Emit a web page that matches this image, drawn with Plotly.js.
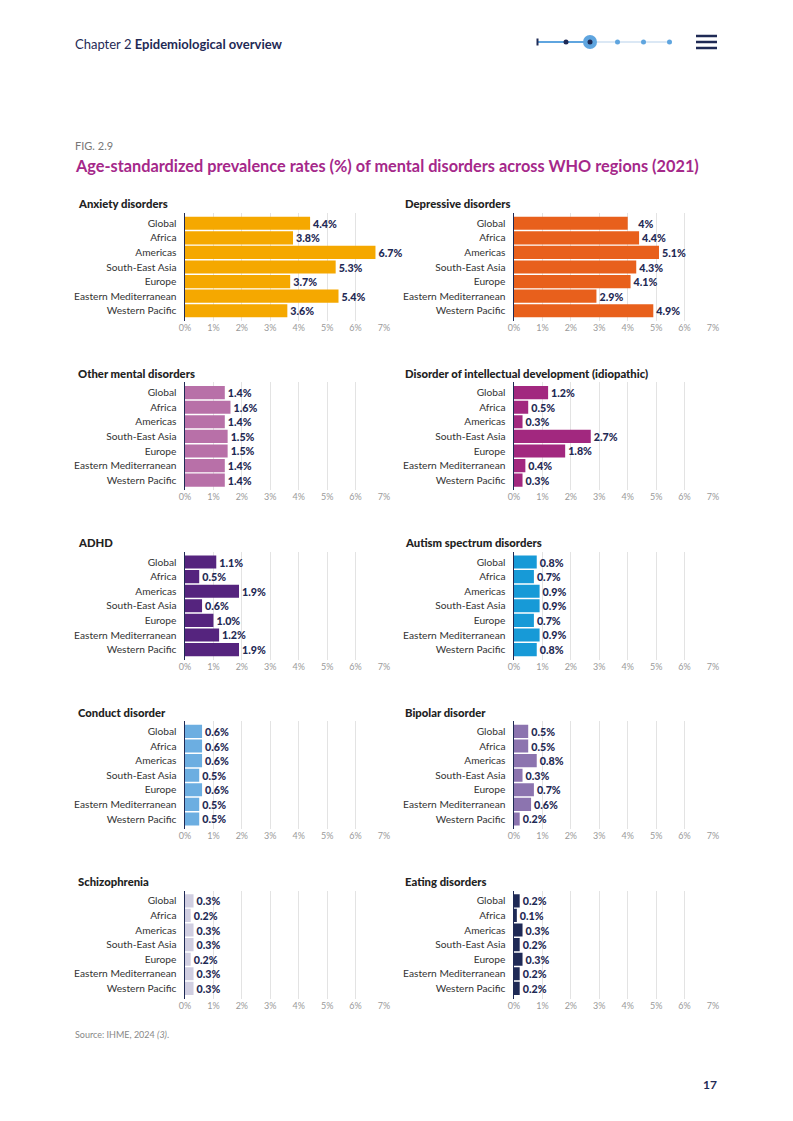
<!DOCTYPE html>
<html>
<head>
<meta charset="utf-8">
<script src="https://cdn.plot.ly/plotly-3.0.1.min.js"></script>
<style>
html,body{margin:0;padding:0;background:#fff;}
#chart{width:793px;height:1121px;}
</style>
</head>
<body>
<div id="chart"></div>
<script>
// ---------- DATA ----------
const regions = ["Global","Africa","Americas","South-East Asia","Europe","Eastern Mediterranean","Western Pacific"];
const xTickVals = [0,1,2,3,4,5,6,7];
const xTickText = ["0%","1%","2%","3%","4%","5%","6%","7%"];

const anxiety       = [4.4, 3.8, 6.7, 5.3, 3.7, 5.4, 3.6];
const depressive    = [4.0, 4.4, 5.1, 4.3, 4.1, 2.9, 4.9];
const otherMental   = [1.4, 1.6, 1.4, 1.5, 1.5, 1.4, 1.4];
const intellectual  = [1.2, 0.5, 0.3, 2.7, 1.8, 0.4, 0.3];
const adhd          = [1.1, 0.5, 1.9, 0.6, 1.0, 1.2, 1.9];
const autism        = [0.8, 0.7, 0.9, 0.9, 0.7, 0.9, 0.8];
const conduct       = [0.6, 0.6, 0.6, 0.5, 0.6, 0.5, 0.5];
const bipolar       = [0.5, 0.5, 0.8, 0.3, 0.7, 0.6, 0.2];
const schizophrenia = [0.3, 0.2, 0.3, 0.3, 0.2, 0.3, 0.3];
const eating        = [0.2, 0.1, 0.3, 0.2, 0.3, 0.2, 0.2];

const depressiveLabels = ["   4%","4.4%","5.1%","4.3%","4.1%","2.9%","4.9%"];

const panelTitles = ["Anxiety disorders","Depressive disorders","Other mental disorders",
  "Disorder of intellectual development (idiopathic)","ADHD","Autism spectrum disorders",
  "Conduct disorder","Bipolar disorder","Schizophrenia","Eating disorders"];
const panelValues = [anxiety, depressive, otherMental, intellectual, adhd, autism, conduct, bipolar, schizophrenia, eating];
const panelColors = ["#F5A800","#E8601C","#B870A8","#A2287F","#55247E","#179AD7","#6CAEE1","#8C74AF","#D0CEE1","#1F2A56"];

// ---------- LAYOUT ----------
const W = 793, H = 1121;
const NAVY = "#1f2a55";
const FONT = "Lato, 'Noto Sans', sans-serif";
const px = x => x / W;
const py = y => 1 - y / H;

const traces = [];
const layout = {
  width: W, height: H,
  margin: {l:0, r:0, t:0, b:0},
  paper_bgcolor: "#fff", plot_bgcolor: "rgba(0,0,0,0)",
  showlegend: false,
  font: {family: FONT, color: "#333"},
  bargap: 0.1,
  annotations: [], shapes: []
};

const colX = [[185, 384], [514, 713]];
const titleX = [76, 403];

panelValues.forEach((vals, i) => {
  const row = Math.floor(i / 2), col = i % 2;
  const n = i + 1;
  const xa = "x" + (n === 1 ? "" : n), ya = "y" + (n === 1 ? "" : n);
  const top = 213 + 169.4 * row, bot = top + 108;
  const labels = (i === 1) ? depressiveLabels : vals.map(v => v.toFixed(1) + "%");
  traces.push({
    type: "bar", orientation: "h",
    x: vals, y: regions,
    xaxis: xa, yaxis: ya,
    marker: {color: panelColors[i]},
    text: labels, textposition: "outside", cliponaxis: false, constraintext: "none",
    textfont: {family: FONT, size: 10.7, color: NAVY, weight: 900},
    hoverinfo: "skip"
  });
  const xk = "xaxis" + (n === 1 ? "" : n), yk = "yaxis" + (n === 1 ? "" : n);
  layout[xk] = {
    domain: [px(colX[col][0]), px(colX[col][1])],
    anchor: ya, range: [0, 7], fixedrange: true,
    tickvals: xTickVals, ticktext: xTickText,
    showgrid: true, gridcolor: "#e3e3e3", gridwidth: 1,
    zeroline: false, showline: false, ticks: "",
    tickfont: {family: FONT, size: 9, color: "#9a9a9a"}
  };
  layout[yk] = {
    domain: [py(bot), py(top)],
    anchor: xa, type: "category", range: [6.7, -0.7], fixedrange: true,
    showline: true, linecolor: NAVY, linewidth: 1.5,
    showgrid: false, zeroline: false, ticks: "", ticklabelstandoff: 5,
    tickfont: {family: FONT, size: 10.2, color: "#333"}
  };
  layout.annotations.push({
    xref: "paper", yref: "paper", x: px(titleX[col]), y: py(top - 9),
    xanchor: "left", yanchor: "middle", showarrow: false,
    text: panelTitles[i],
    font: {family: FONT, size: 11.3, color: "#222", weight: 900}
  });
});

// header
layout.annotations.push(
  {xref:"paper", yref:"paper", x:px(73), y:py(44), xanchor:"left", yanchor:"middle", showarrow:false,
   text:"Chapter 2 <b>Epidemiological overview</b>", font:{family:FONT, size:13, color:NAVY}},
  {xref:"paper", yref:"paper", x:px(73), y:py(146), xanchor:"left", yanchor:"middle", showarrow:false,
   text:"FIG. 2.9", font:{family:FONT, size:11, color:"#777"}},
  {xref:"paper", yref:"paper", x:px(73), y:py(165), xanchor:"left", yanchor:"middle", showarrow:false,
   text:"<b>Age-standardized prevalence rates (%) of mental disorders across WHO regions (2021)</b>",
   font:{family:FONT, size:16.3, color:"#A5288A"}},
  {xref:"paper", yref:"paper", x:px(73), y:py(1034), xanchor:"left", yanchor:"middle", showarrow:false,
   text:"Source: IHME, 2024 <i>(3)</i>.", font:{family:FONT, size:9, color:"#888"}},
  {xref:"paper", yref:"paper", x:px(719), y:py(1084), xanchor:"right", yanchor:"middle", showarrow:false,
   text:"<b>17</b>", font:{family:FONT, size:12, color:NAVY}}
);

// nav decoration
const S = (o) => Object.assign({xref:"paper", yref:"paper"}, o);
layout.shapes.push(
  S({type:"line", x0:px(537), x1:px(670), y0:py(42), y1:py(42), line:{color:"#dbe8f5", width:2}}),
  S({type:"line", x0:px(537), x1:px(590), y0:py(42), y1:py(42), line:{color:"#5fa5df", width:2}}),
  S({type:"line", x0:px(537.5), x1:px(537.5), y0:py(38.5), y1:py(45.5), line:{color:NAVY, width:2}}),
  S({type:"circle", x0:px(563.5), x1:px(568.5), y0:py(39.5), y1:py(44.5), fillcolor:NAVY, line:{width:0}}),
  S({type:"circle", x0:px(583), x1:px(597), y0:py(35), y1:py(49), fillcolor:"#5fa5df", line:{width:0}}),
  S({type:"circle", x0:px(587.5), x1:px(592.5), y0:py(39.5), y1:py(44.5), fillcolor:NAVY, line:{width:0}}),
  S({type:"circle", x0:px(615), x1:px(620), y0:py(39.5), y1:py(44.5), fillcolor:"#5fa5df", line:{width:0}}),
  S({type:"circle", x0:px(641), x1:px(646), y0:py(39.5), y1:py(44.5), fillcolor:"#5fa5df", line:{width:0}}),
  S({type:"circle", x0:px(667), x1:px(672), y0:py(39.5), y1:py(44.5), fillcolor:"#5fa5df", line:{width:0}}),
  S({type:"line", x0:px(696), x1:px(717), y0:py(36), y1:py(36), line:{color:NAVY, width:2.5}}),
  S({type:"line", x0:px(696), x1:px(717), y0:py(42), y1:py(42), line:{color:NAVY, width:2.5}}),
  S({type:"line", x0:px(696), x1:px(717), y0:py(48), y1:py(48), line:{color:NAVY, width:2.5}})
);

Plotly.newPlot("chart", traces, layout, {staticPlot: true, displayModeBar: false});
</script>
</body>
</html>
